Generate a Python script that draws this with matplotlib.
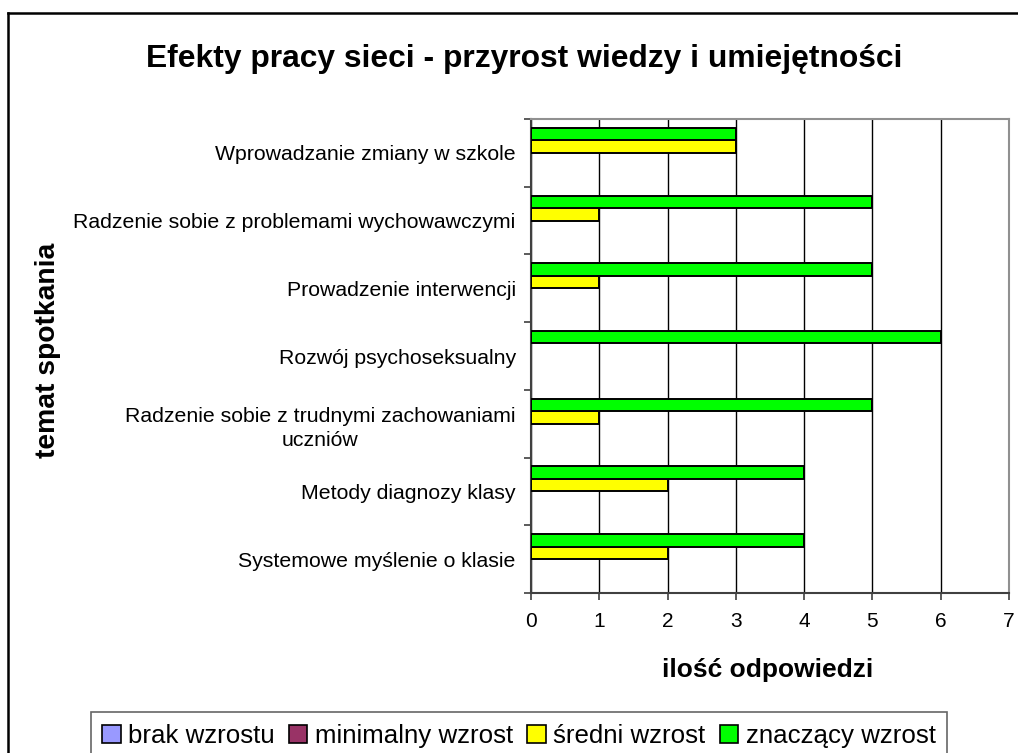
import matplotlib
matplotlib.use("Agg")
import numpy as np
import matplotlib.pyplot as plt
from matplotlib.lines import Line2D
from matplotlib.patches import Patch

plt.rcParams["font.family"] = ["Liberation Sans", "DejaVu Sans"]

# categories listed top to bottom, as in the picture
categories = [
    "Wprowadzanie zmiany w szkole",
    "Radzenie sobie z problemami wychowawczymi",
    "Prowadzenie interwencji",
    "Rozwój psychoseksualny",
    "Radzenie sobie z trudnymi zachowaniami\nuczniów",
    "Metody diagnozy klasy",
    "Systemowe myślenie o klasie",
]
brak_wzrostu = [0, 0, 0, 0, 0, 0, 0]
minimalny_wzrost = [0, 0, 0, 0, 0, 0, 0]
sredni_wzrost = [3, 1, 1, 0, 1, 2, 2]
znaczacy_wzrost = [3, 5, 5, 6, 5, 4, 4]
series_names = ["brak wzrostu", "minimalny wzrost", "średni wzrost", "znaczący wzrost"]
series_colors = ["#9999FF", "#993366", "#FFFF00", "#00FF00"]
x_ticks = [0, 1, 2, 3, 4, 5, 6, 7]

W, H = 1018, 753
fig = plt.figure(figsize=(W / 100, H / 100), dpi=100)

# outer chart frame (left and top edges visible)
fig.add_artist(Line2D([8 / W, 8 / W], [0, 1 - 13 / H], color="black", lw=1.8))
fig.add_artist(Line2D([8 / W, 1], [1 - 13 / H, 1 - 13 / H], color="black", lw=1.8))

ax = fig.add_axes([531 / W, 1 - 593 / H, 478 / W, 474 / H])

n = len(categories)
y = np.arange(n)[::-1]
h = 0.185
all_series = [brak_wzrostu, minimalny_wzrost, sredni_wzrost, znaczacy_wzrost]
offsets = [-1.5 * h, -0.5 * h, 0.5 * h, 1.5 * h]
for vals, off, col in zip(all_series, offsets, series_colors):
    vals = np.array(vals)
    mask = vals > 0
    ax.barh(y[mask] + off, vals[mask], height=h, color=col,
            edgecolor="black", linewidth=1.4, zorder=3)

ax.set_xlim(0, 7)
ax.set_ylim(-0.5, n - 0.5)
ax.set_xticks(x_ticks)
ax.set_xticklabels([str(v) for v in x_ticks], fontsize=15)
ax.set_yticks(y)
ax.set_yticklabels(categories, fontsize=15.3, ha="right", multialignment="center",
                   linespacing=1.35)
ax.set_yticks(np.arange(-0.5, n, 1.0), minor=True)
ax.tick_params(axis="y", which="major", length=0, pad=11)
ax.tick_params(axis="y", which="minor", length=5, width=1.2, color="#404040")
ax.tick_params(axis="x", length=5, width=1.2, color="#404040", pad=9)

ax.grid(axis="x", color="black", lw=1, zorder=1)
for side in ["top", "right"]:
    ax.spines[side].set_color("#909090")
    ax.spines[side].set_linewidth(1.5)
for side in ["left", "bottom"]:
    ax.spines[side].set_color("#404040")
    ax.spines[side].set_linewidth(1.5)

fig.text(524 / W, 1 - 59 / H, "Efekty pracy sieci - przyrost wiedzy i umiejętności",
         ha="center", va="center", fontsize=22.9, fontweight="bold")
fig.text(768 / W, 1 - 670 / H, "ilość odpowiedzi",
         ha="center", va="center", fontsize=19, fontweight="bold")
fig.text(48 / W, 1 - 350 / H, "temat spotkania", rotation=90,
         ha="center", va="center", fontsize=20.3, fontweight="bold")

handles = [Patch(facecolor=c, edgecolor="black", linewidth=1.2) for c in series_colors]
leg = fig.legend(handles, series_names, loc="upper center",
                 bbox_to_anchor=(519 / W, 1 - 712 / H), ncol=4, fontsize=18.6,
                 frameon=True, fancybox=False, handlelength=0.7, handleheight=0.7,
                 handletextpad=0.3, columnspacing=0.55, borderpad=0.45,
                 borderaxespad=0)
leg.get_frame().set_edgecolor("#404040")
leg.get_frame().set_linewidth(1.2)

fig.savefig("out.png", dpi=100)
